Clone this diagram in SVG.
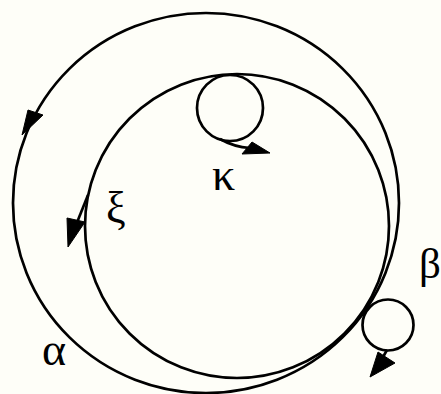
<svg xmlns="http://www.w3.org/2000/svg" width="441" height="394" viewBox="0 0 441 394">
  <style>
    .ln { fill: none; stroke: #000; stroke-width: 2.7; }
    .ah { fill: #000; stroke: #000; stroke-width: 1; stroke-linejoin: round; }
    .lb { font-family: "Liberation Serif", "Times New Roman", serif; fill: #000; }
  </style>
  <rect width="441" height="394" fill="#fefef8"/>
  <g id="connectors">
    <g id="alpha">
      <ellipse class="ln" cx="206" cy="203" rx="193" ry="190"/>
      <polygon class="ah" points="22,135 28,110 43,115"/>
      <text class="lb" x="42" y="365" font-size="46">α</text>
    </g>
    <g id="xi">
      <circle class="ln" cx="237" cy="226" r="152"/>
      <path class="ln" d="M88,195 Q80,215 70,240"/>
      <polygon class="ah" points="67,218 85,222 68,247"/>
      <text class="lb" x="106" y="222" font-size="44">ξ</text>
    </g>
    <g id="kappa">
      <circle class="ln" cx="230" cy="108" r="33"/>
      <path class="ln" d="M220,139 Q234,147 250,148"/>
      <polygon class="ah" points="270,153 252,142 242,154"/>
      <text class="lb" x="212" y="190" font-size="46">κ</text>
    </g>
    <g id="beta">
      <circle class="ln" cx="388" cy="325" r="25.5"/>
      <path class="ln" d="M387,350 L383,357"/>
      <polygon class="ah" points="370,377 378,352 395,363"/>
      <text class="lb" x="419" y="278" font-size="43">β</text>
    </g>
  </g>
</svg>
